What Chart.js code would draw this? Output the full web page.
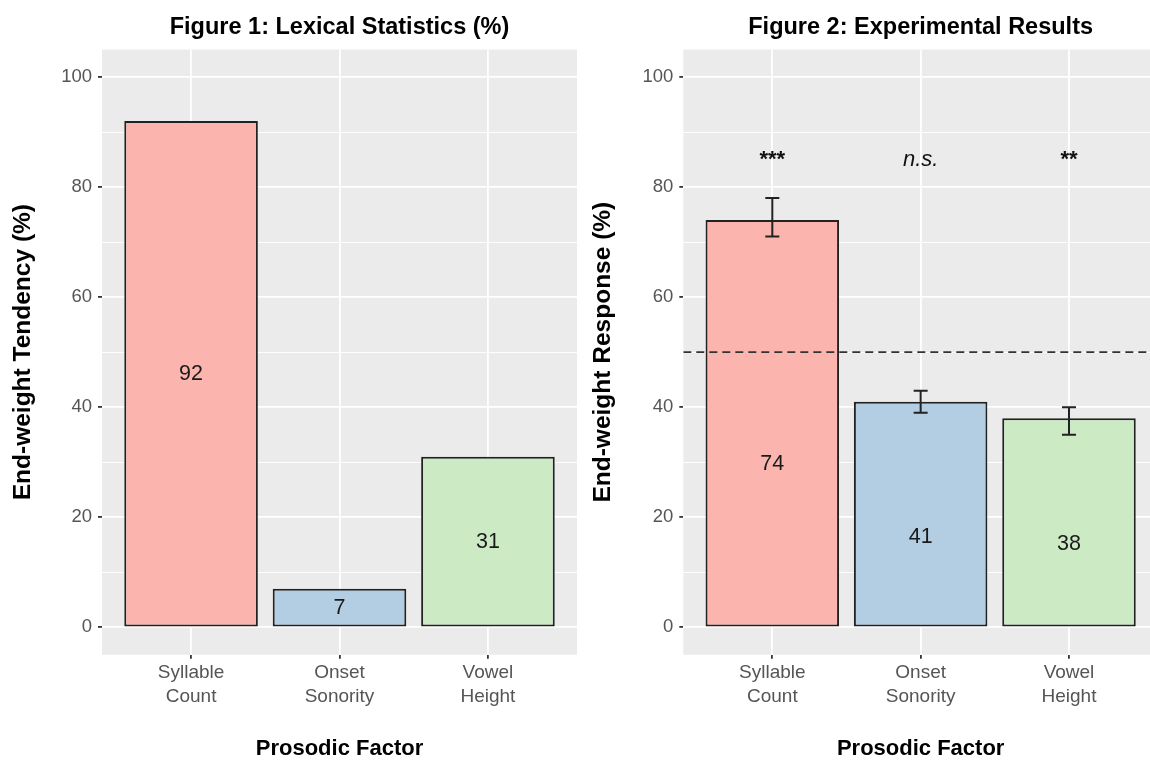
<!DOCTYPE html>
<html>
<head>
<meta charset="utf-8">
<script src="https://cdn.jsdelivr.net/npm/chart.js@4.4.1/dist/chart.umd.min.js"></script>
<style>
  html, body { margin: 0; padding: 0; background: #fff; overflow: hidden; width: 1150px; height: 760px; }
  canvas { position: absolute; top: 0; }
  #lexChart { left: 0; }
  #expChart { left: 580px; }
</style>
</head>
<body>
<canvas id="lexChart" width="580" height="760"></canvas>
<canvas id="expChart" width="580" height="760"></canvas>
<script>
// Datos de las dos figuras
const categories = [['Syllable', 'Count'], ['Onset', 'Sonority'], ['Vowel', 'Height']];
const barColors = ['#FBB4AE', '#B3CDE3', '#CCEBC5'];
const lexicalValues = [92, 7, 31];
const responseValues = [74, 41, 38];
const responseLow = [71, 39, 35];
const responseHigh = [78, 43, 40];
const significance = ['***', 'n.s.', '**'];
const chanceLevel = 50;
const yTicks = [0, 10, 20, 30, 40, 50, 60, 70, 80, 90, 100];

const FONT = "'Liberation Sans', Arial, Helvetica, sans-serif";
Chart.defaults.font.family = FONT;
Chart.defaults.animation = false;

// Fondo gris del panel
const panelBg = {
  id: 'panelBg',
  beforeDraw(chart) {
    const { ctx, chartArea: a } = chart;
    ctx.save();
    ctx.fillStyle = '#EBEBEB';
    ctx.fillRect(a.left, a.top, a.right - a.left, a.bottom - a.top);
    ctx.restore();
  }
};

// Título centrado sobre el panel
const panelTitle = {
  id: 'panelTitle',
  afterDraw(chart, args, opts) {
    const { ctx, chartArea: a } = chart;
    ctx.save();
    ctx.font = 'bold 23.5px ' + FONT;
    ctx.fillStyle = '#000';
    ctx.textAlign = 'center';
    ctx.textBaseline = 'middle';
    ctx.fillText(opts.text, (a.left + a.right) / 2, 28);
    ctx.restore();
  }
};

// Etiquetas de valor dentro de las barras
const barLabels = {
  id: 'barLabels',
  afterDatasetsDraw(chart, args, opts) {
    const { ctx, scales: { x, y } } = chart;
    ctx.save();
    ctx.font = '21.5px ' + FONT;
    ctx.fillStyle = '#1a1a1a';
    ctx.textAlign = 'center';
    ctx.textBaseline = 'middle';
    opts.values.forEach((v, i) => {
      ctx.fillText(String(v), x.getPixelForValue(i + 1), y.getPixelForValue(v * opts.factor));
    });
    ctx.restore();
  }
};

// Barras de error y marcas de significación
const errorBars = {
  id: 'errorBars',
  afterDatasetsDraw(chart, args, opts) {
    if (!opts.low) return;
    const { ctx, scales: { x, y } } = chart;
    ctx.save();
    ctx.strokeStyle = '#222';
    ctx.lineWidth = 2;
    opts.low.forEach((lo, i) => {
      const px = x.getPixelForValue(i + 1);
      const y1 = y.getPixelForValue(lo);
      const y2 = y.getPixelForValue(opts.high[i]);
      ctx.beginPath();
      ctx.moveTo(px, y1); ctx.lineTo(px, y2);
      ctx.moveTo(px - 7, y1); ctx.lineTo(px + 7, y1);
      ctx.moveTo(px - 7, y2); ctx.lineTo(px + 7, y2);
      ctx.stroke();
    });
    ctx.fillStyle = '#111';
    ctx.textAlign = 'center';
    ctx.textBaseline = 'middle';
    opts.sig.forEach((s, i) => {
      ctx.font = (s === 'n.s.' ? 'italic ' : 'bold ') + '22px ' + FONT;
      ctx.fillText(s, x.getPixelForValue(i + 1), y.getPixelForValue(85));
    });
    ctx.restore();
  }
};

function makeOptions(yTitle, yWidth, padRight) {
  return {
    responsive: false,
    layout: { padding: { left: 0, top: 49.5, right: padRight, bottom: 0 } },
    plugins: { legend: { display: false }, tooltip: { enabled: false } },
    scales: {
      x: {
        type: 'linear',
        min: 0.4,
        max: 3.6,
        offset: false,
        afterBuildTicks: s => { s.ticks = [1, 2, 3].map(v => ({ value: v })); },
        afterFit: s => { s.height = 105.2; },
        border: { display: false },
        grid: { color: '#fff', lineWidth: 1.8, tickColor: '#333', tickLength: 4, offset: false },
        ticks: {
          autoSkip: false,
          maxRotation: 0,
          padding: 2,
          color: '#555',
          font: { size: 19, lineHeight: 1.27 },
          callback: v => categories[v - 1]
        },
        title: {
          display: true,
          text: 'Prosodic Factor',
          color: '#000',
          font: { size: 22, weight: 'bold', lineHeight: 1 },
          padding: { top: 0, bottom: 0 }
        }
      },
      y: {
        min: -5,
        max: 105,
        afterBuildTicks: s => { s.ticks = yTicks.map(v => ({ value: v })); },
        afterFit: s => { s.width = yWidth; },
        border: { display: false },
        grid: {
          color: '#fff',
          lineWidth: c => (c.tick && c.tick.value % 20 === 0 ? 1.8 : 0.9),
          tickColor: c => (c.tick && c.tick.value % 20 === 0 ? '#333' : 'rgba(0,0,0,0)'),
          tickLength: 4
        },
        ticks: {
          autoSkip: false,
          padding: 6,
          color: '#555',
          font: { size: 18.5 },
          callback: v => (v % 20 === 0 ? v : '')
        },
        title: {
          display: true,
          text: yTitle,
          color: '#000',
          font: { size: 24.5, weight: 'bold', lineHeight: 1 },
          padding: { top: 10.5, bottom: 0 }
        }
      }
    }
  };
}

function barDataset(values) {
  return {
    type: 'bar',
    order: 1,
    data: values.map((v, i) => ({ x: i + 1, y: v })),
    backgroundColor: barColors,
    borderColor: '#222',
    borderWidth: 2,
    borderSkipped: false,
    barPercentage: 0.9,
    categoryPercentage: 1
  };
}

// Figura 1
const lexOptions = makeOptions('End-weight Tendency (%)', 102, 3);
lexOptions.plugins.panelTitle = { text: 'Figure 1: Lexical Statistics (%)' };
lexOptions.plugins.barLabels = { values: lexicalValues, factor: 0.5 };
new Chart(document.getElementById('lexChart').getContext('2d'), {
  type: 'bar',
  data: { datasets: [barDataset(lexicalValues)] },
  options: lexOptions,
  plugins: [panelBg, panelTitle, barLabels]
});

// Figura 2
const expOptions = makeOptions('End-weight Response (%)', 103.3, 2);
expOptions.plugins.panelTitle = { text: 'Figure 2: Experimental Results' };
expOptions.plugins.barLabels = { values: responseValues, factor: 0.4 };
expOptions.plugins.errorBars = { low: responseLow, high: responseHigh, sig: significance };
new Chart(document.getElementById('expChart').getContext('2d'), {
  type: 'bar',
  data: {
    datasets: [
      {
        type: 'line',
        order: 0,
        data: [{ x: 0.4, y: chanceLevel }, { x: 3.6, y: chanceLevel }],
        borderColor: '#333',
        borderWidth: 1.8,
        borderDash: [8, 5],
        pointRadius: 0
      },
      barDataset(responseValues)
    ]
  },
  options: expOptions,
  plugins: [panelBg, panelTitle, barLabels, errorBars]
});
</script>
</body>
</html>
